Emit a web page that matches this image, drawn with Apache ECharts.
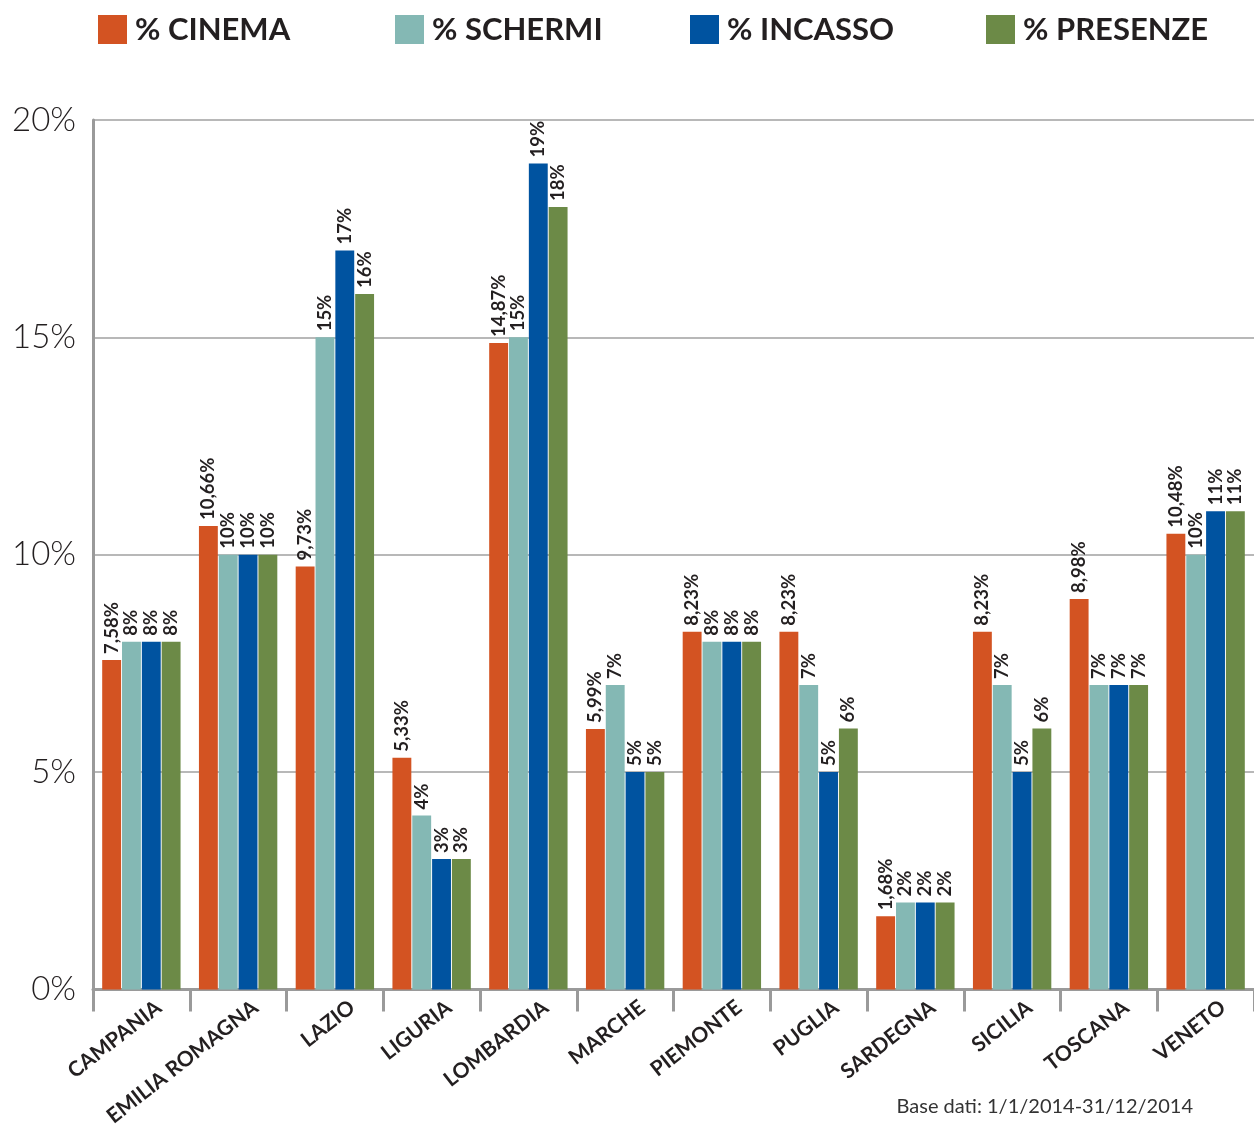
<!DOCTYPE html>
<html><head><meta charset="utf-8">
<script src="https://cdn.jsdelivr.net/npm/echarts@6/dist/echarts.min.js"></script>
<style>html,body{margin:0;padding:0;background:#fff}#c{width:1254px;height:1129px}</style>
</head><body><div id="c"></div>
<script>
const categories = ['CAMPANIA','EMILIA ROMAGNA','LAZIO','LIGURIA','LOMBARDIA','MARCHE','PIEMONTE','PUGLIA','SARDEGNA','SICILIA','TOSCANA','VENETO'];
const seriesNames = ['% CINEMA','% SCHERMI','% INCASSO','% PRESENZE'];
const cinema   = [7.58,10.66,9.73,5.33,14.87,5.99,8.23,8.23,1.68,8.23,8.98,10.48];
const schermi  = [8,10,15,4,15,7,8,7,2,7,7,10];
const incasso  = [8,10,17,3,19,5,8,5,2,5,7,11];
const presenze = [8,10,16,3,18,5,8,6,2,6,7,11];
const yTicks = [0,5,10,15,20];
const footnote = 'Base dati: 1/1/2014-31/12/2014';
const colors = ['#d35322','#84b8b4','#0053a0','#6c8a47'];

const chart = echarts.init(document.getElementById('c'));
const fmt = v => (Number.isInteger(v) ? String(v) : v.toFixed(2).replace('.', ',')) + '%';
const datas = [cinema, schermi, incasso, presenze];
const series = datas.map((d, i) => ({
  name: seriesNames[i], type: 'bar', data: d,
  barGap: '5%', barCategoryGap: '19%',
  itemStyle: { color: colors[i] },
  label: {
    show: true, position: 'top', rotate: 90, align: 'left', verticalAlign: 'middle',
    distance: 6, fontFamily: 'Lato, sans-serif', fontWeight: 'bold', fontSize: 18.5, color: '#231f20',
    formatter: p => fmt(p.value)
  }
}));
const legendLefts = [98, 395, 690, 986];
const legends = seriesNames.map((n, i) => ({
  top: 14, left: legendLefts[i], padding: 0, itemWidth: 29, itemHeight: 29, icon: 'rect', itemGap: 8,
  textStyle: { fontFamily: 'Lato, sans-serif', fontWeight: 'bold', fontSize: 31, color: '#231f20', padding: [0,0,0,3] },
  data: [n]
}));
chart.setOption({
  animation: false,
  color: colors,
  legend: legends,
  grid: { left: 93, top: 120, width: 1168, height: 870, containLabel: false },
  xAxis: {
    type: 'category', data: categories,
    axisLine: { lineStyle: { color: '#9a9a9a', width: 3 } },
    axisTick: { show: true, length: 22, lineStyle: { color: '#9a9a9a', width: 3 } },
    axisLabel: { rotate: 38, interval: 0, margin: 29, padding: [0, -22, 0, 0],
      fontFamily: 'Lato, sans-serif', fontWeight: 'bold', fontSize: 21, color: '#231f20' }
  },
  yAxis: {
    type: 'value', min: 0, max: 20, interval: 5,
    axisLine: { show: true, lineStyle: { color: '#9a9a9a', width: 3 } },
    axisTick: { show: false },
    splitLine: { lineStyle: { color: '#a0a0a0', width: 1.5 } },
    axisLabel: { margin: 17, fontFamily: 'Lato, sans-serif', fontWeight: 300, fontSize: 33, color: '#231f20',
      formatter: v => yTicks.includes(v) ? v + '%' : '' }
  },
  graphic: [{ type: 'text', right: 61, top: 1097, style: { text: footnote, font: '20px Lato, sans-serif', fill: '#333' } }],
  series
});
</script></body></html>
